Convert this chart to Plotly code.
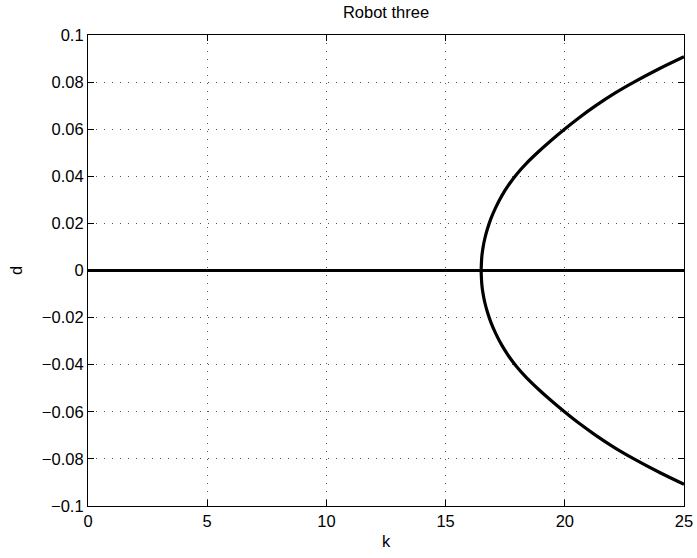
import plotly.graph_objects as go

# Bifurcation diagram data: gain k vs. offset d
k_axis = [0, 25]
d_axis = [0, 0]

k_upper = [16.49, 16.52, 16.57, 16.65, 16.75, 16.9, 17.1, 17.35, 17.65, 18.0,
           18.4, 18.86, 19.4, 20.0, 20.6, 21.3, 22.1, 22.9, 24.0, 25.0]
d_upper = [0.0, 0.0060, 0.0098, 0.0138, 0.0175, 0.0220, 0.0267, 0.0316, 0.0364, 0.0411,
           0.0456, 0.0501, 0.0550, 0.0601, 0.0649, 0.0700, 0.0753, 0.0800, 0.0859, 0.0908]
k_lower = [16.49, 16.52, 16.57, 16.65, 16.75, 16.9, 17.1, 17.35, 17.65, 18.0,
           18.4, 18.86, 19.4, 20.0, 20.6, 21.3, 22.1, 22.9, 24.0, 25.0]
d_lower = [0.0, -0.0060, -0.0098, -0.0138, -0.0175, -0.0220, -0.0267, -0.0316, -0.0364, -0.0411,
           -0.0456, -0.0501, -0.0550, -0.0601, -0.0649, -0.0700, -0.0753, -0.0800, -0.0859, -0.0908]

x_ticks = [0, 5, 10, 15, 20, 25]
x_labels = ["0", "5", "10", "15", "20", "25"]
y_ticks = [-0.1, -0.08, -0.06, -0.04, -0.02, 0, 0.02, 0.04, 0.06, 0.08, 0.1]
y_labels = ["\u22120.1", "\u22120.08", "\u22120.06", "\u22120.04", "\u22120.02", "0",
            "0.02", "0.04", "0.06", "0.08", "0.1"]

FONT = "Liberation Sans, Arial, Helvetica, sans-serif"
LINE = dict(color="black", width=3.2)

fig = go.Figure()
fig.add_trace(go.Scatter(x=k_axis, y=d_axis, mode="lines", line=LINE, hoverinfo="skip"))
fig.add_trace(go.Scatter(x=k_upper, y=d_upper, mode="lines",
                         line=dict(LINE, shape="spline", smoothing=0.9), hoverinfo="skip"))
fig.add_trace(go.Scatter(x=k_lower, y=d_lower, mode="lines",
                         line=dict(LINE, shape="spline", smoothing=0.9), hoverinfo="skip"))

axis_common = dict(
    showline=True, linecolor="black", linewidth=1.2, mirror="ticks",
    ticks="inside", ticklen=6, tickcolor="black", tickwidth=1,
    showgrid=True, gridcolor="#555555", griddash="1px,7px", gridwidth=1,
    zeroline=False, automargin=False,
    tickfont=dict(family=FONT, size=16.5, color="black"),
)

fig.update_layout(
    width=697, height=558,
    margin=dict(l=88, r=13, t=35, b=52),
    plot_bgcolor="white", paper_bgcolor="white",
    showlegend=False,
    xaxis=dict(axis_common, range=[0, 25], tickvals=x_ticks, ticktext=x_labels,
               title=dict(text="k", font=dict(family=FONT, size=16.5, color="black"),
                          standoff=6)),
    yaxis=dict(axis_common, range=[-0.1, 0.1], tickvals=y_ticks, ticktext=y_labels,
               title=dict(text="d", font=dict(family=FONT, size=16.5, color="black"),
                          standoff=15)),
    title=dict(text="Robot three", font=dict(family=FONT, size=16.5, color="black"),
               x=(88 + 684) / 2 / 697, xanchor="center",
               y=1 - 12 / 558, yanchor="middle"),
)

fig.write_html("out.html")
